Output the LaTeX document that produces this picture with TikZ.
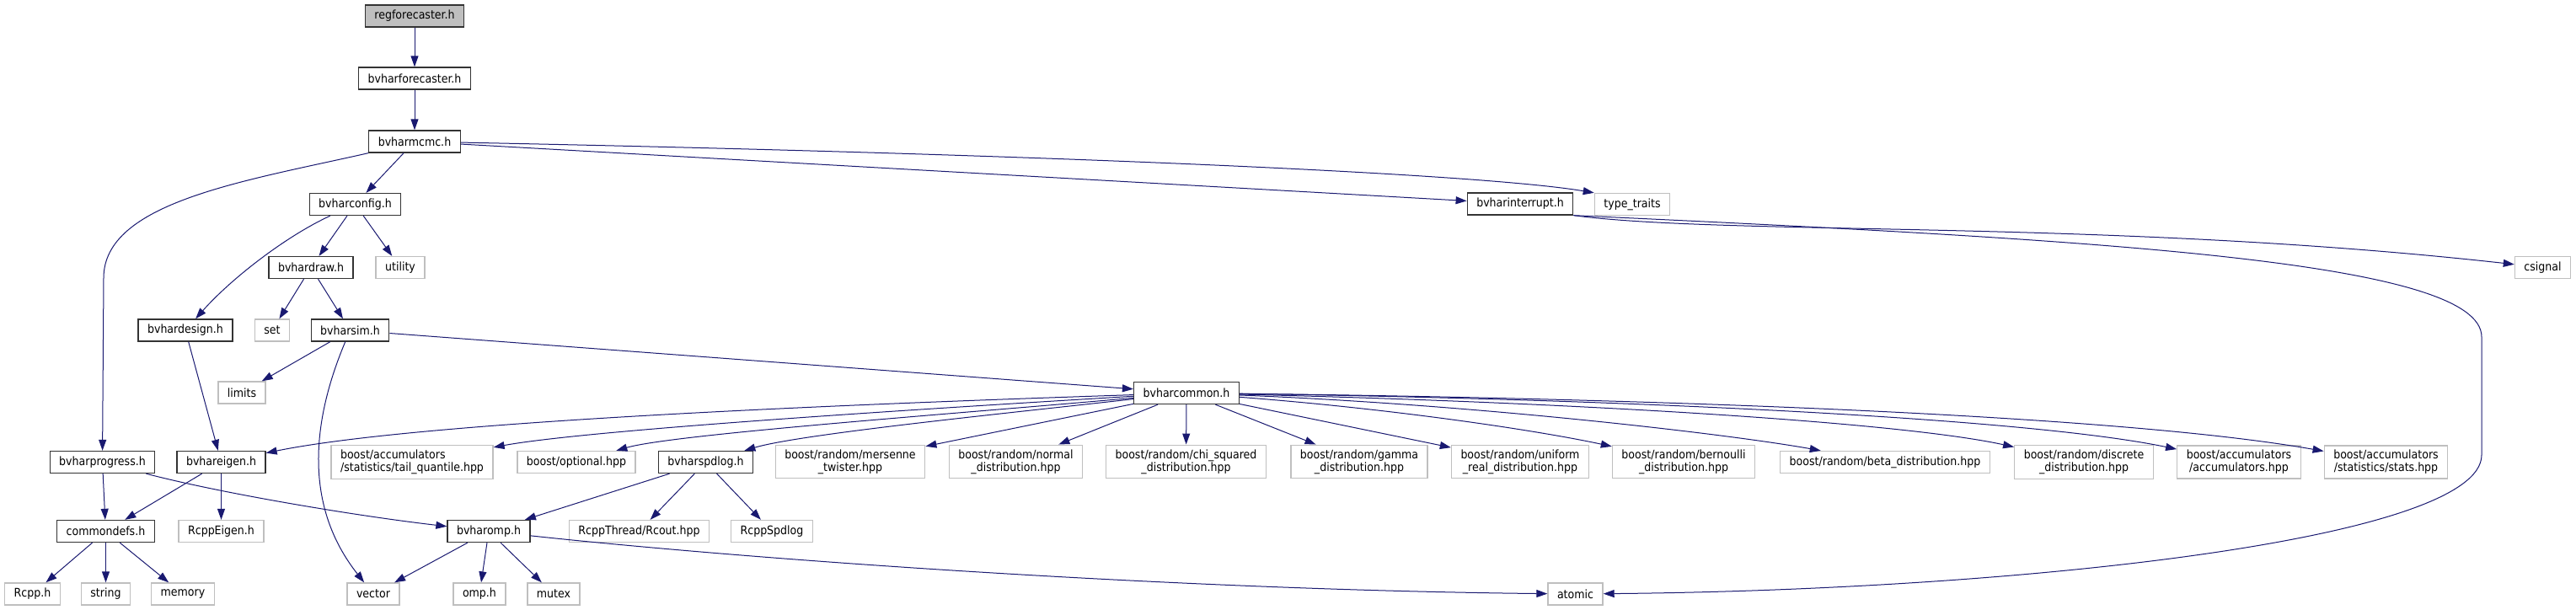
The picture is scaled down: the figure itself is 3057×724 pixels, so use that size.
\documentclass[tikz,border=0pt]{standalone}
\usepackage{fontspec}
\setmainfont{DejaVu Sans Condensed}
\usetikzlibrary{arrows.meta,positioning}
\definecolor{edgeblue}{HTML}{191970}
\definecolor{docline}{HTML}{333333}
\definecolor{sysline}{HTML}{BFBFBF}
\definecolor{rootfill}{HTML}{BFBFBF}
\tikzset{
docfile/.style={draw=docline,fill=white,line width=1pt,minimum height=19.5pt,inner xsep=8.25pt,inner ysep=4pt,align=center,font=\fontsize{10.5}{11.25}\selectfont},
rootfile/.style={docfile,fill=rootfill},
sysfile/.style={docfile,draw=sysline},
incl/.style={draw=edgeblue,line width=0.75pt,-{Triangle[length=9.75pt,width=6.75pt]}}
}
\begin{document}
\begin{tikzpicture}[x=0.75pt,y=-0.75pt]
\useasboundingbox (0,0) rectangle (3057,724);
\node[rootfile](regforecaster) at (492,19){regforecaster.h};
\node[docfile](forecaster) at (492,93){bvharforecaster.h};
\node[docfile](mcmc) at (492,168){bvharmcmc.h};
\node[docfile](config) at (421.5,242.5){bvharconfig.h};
\node[docfile](interrupt) at (1804,242){bvharinterrupt.h};
\node[sysfile](typetraits) at (1937,242.5){type\_traits};
\node[docfile](draw) at (369,317.5){bvhardraw.h};
\node[sysfile](utility) at (475,317.5){utility};
\node[sysfile](csignal) at (3017.5,317.5){csignal};
\node[docfile](design) at (220,392){bvhardesign.h};
\node[sysfile](set) at (323,392){set};
\node[docfile](sim) at (415.5,392){bvharsim.h};
\node[sysfile](limits) at (287,466){limits};
\node[docfile](common) at (1408,466.5){bvharcommon.h};
\node[docfile](progress) at (121.5,548.5){bvharprogress.h};
\node[docfile](eigen) at (262.5,548.5){bvhareigen.h};
\node[sysfile,align=left](tail) at (489,548.5){boost/accumulators\\/statistics/tail\_quantile.hpp};
\node[sysfile](optional) at (684,548.5){boost/optional.hpp};
\node[docfile](spdlog) at (837.5,548.5){bvharspdlog.h};
\node[sysfile](mersenne) at (1009,548){boost/random/mersenne\\\_twister.hpp};
\node[sysfile](normal) at (1205.5,548){boost/random/normal\\\_distribution.hpp};
\node[sysfile](chisq) at (1407.5,548){boost/random/chi\_squared\\\_distribution.hpp};
\node[sysfile](gamma) at (1613,548){boost/random/gamma\\\_distribution.hpp};
\node[sysfile](uniform) at (1804,548){boost/random/uniform\\\_real\_distribution.hpp};
\node[sysfile](bernoulli) at (1998,548){boost/random/bernoulli\\\_distribution.hpp};
\node[sysfile](beta) at (2237,548.5){boost/random/beta\_distribution.hpp};
\node[sysfile](discrete) at (2473,548.5){boost/random/discrete\\\_distribution.hpp};
\node[sysfile](accum) at (2657,548.5){boost/accumulators\\/accumulators.hpp};
\node[sysfile](stats) at (2831.5,548.5){boost/accumulators\\/statistics/stats.hpp};
\node[docfile](commondefs) at (125.5,630.5){commondefs.h};
\node[sysfile](rcppeigen) at (262.5,630.5){RcppEigen.h};
\node[docfile](omp) at (580,630.5){bvharomp.h};
\node[sysfile](rcout) at (758.5,630.5){RcppThread/Rcout.hpp};
\node[sysfile](rcppspdlog) at (916,630.5){RcppSpdlog};
\node[sysfile](rcpp) at (38.5,705){Rcpp.h};
\node[sysfile](string) at (125.5,705){string};
\node[sysfile](memory) at (217,705){memory};
\node[sysfile](vector) at (443,705){vector};
\node[sysfile](omph) at (569,705){omp.h};
\node[sysfile](mutex) at (657,705){mutex};
\node[sysfile](atomic) at (1869.5,705){atomic};
\draw[incl](regforecaster)--(forecaster);\draw[incl](forecaster)--(mcmc);
\draw[incl](mcmc)--(config);\draw[incl](mcmc)--(interrupt);
\draw[incl](mcmc.south west) .. controls (290,215) and (123,240) .. (123,330)--(progress);
\draw[incl](mcmc) .. controls (1200,182) and (1750,205) .. (typetraits.north west);
\draw[incl](config) .. controls (340,280) and (275,330) .. (design);
\draw[incl](config)--(draw);\draw[incl](config)--(utility);
\draw[incl](draw)--(set);\draw[incl](draw)--(sim);
\draw[incl](sim)--(limits);\draw[incl](sim)--(common);
\draw[incl](sim) .. controls (370,500) and (360,600) .. (vector);
\draw[incl](design)--(eigen);
\draw[incl](common) .. controls (1000,480) and (500,500) .. (eigen);
\draw[incl](common) .. controls (1100,485) and (700,510) .. (tail);
\draw[incl](common) .. controls (1150,490) and (800,515) .. (optional);
\draw[incl](common) .. controls (1200,490) and (950,515) .. (spdlog);
\draw[incl](common)--(mersenne);\draw[incl](common)--(normal);\draw[incl](common)--(chisq);
\draw[incl](common)--(gamma);\draw[incl](common)--(uniform);
\draw[incl](common) .. controls (1650,485) and (1820,510) .. (bernoulli);
\draw[incl](common) .. controls (1750,480) and (2050,515) .. (beta);
\draw[incl](common) .. controls (1850,477) and (2250,500) .. (discrete);
\draw[incl](common) .. controls (1900,473) and (2400,495) .. (accum);
\draw[incl](common) .. controls (1900,472) and (2500,490) .. (stats);
\draw[incl](progress)--(commondefs);
\draw[incl](progress) .. controls (260,585) and (420,612) .. (omp);
\draw[incl](eigen)--(commondefs);\draw[incl](eigen)--(rcppeigen);
\draw[incl](spdlog)--(omp);\draw[incl](spdlog)--(rcout);\draw[incl](spdlog)--(rcppspdlog);
\draw[incl](commondefs)--(rcpp);\draw[incl](commondefs)--(string);\draw[incl](commondefs)--(memory);
\draw[incl](omp)--(vector);\draw[incl](omp)--(omph);\draw[incl](omp)--(mutex);
\draw[incl](omp) .. controls (900,665) and (1400,700) .. (atomic);
\draw[incl](interrupt.south east) .. controls (2050,280) and (2500,260) .. (csignal);
\draw[incl](interrupt.south east) .. controls (2500,285) and (2945,310) .. (2945,400)--(2945,540) .. controls (2945,640) and (2400,700) .. (atomic);
\end{tikzpicture}
\end{document}
